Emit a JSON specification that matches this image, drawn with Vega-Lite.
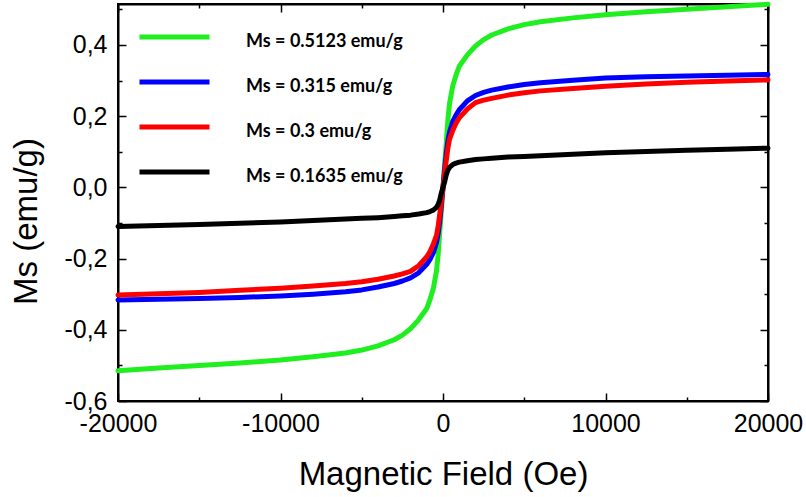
{
  "$schema": "https://vega.github.io/schema/vega-lite/v6.json",
  "width": 650,
  "height": 397,
  "autosize": {"type": "none"},
  "padding": {"left": 118, "top": 4, "right": 38, "bottom": 96},
  "background": "white",
  "config": {
    "view": {"stroke": "black", "strokeWidth": 2},
    "font": "Liberation Sans",
    "axis": {"grid": false, "labelColor": "black", "titleColor": "black", "tickColor": "black", "domainColor": "black", "domainWidth": 2, "tickWidth": 1.5}
  },
  "data": {
    "values": [
      {"H": -20000, "g": -0.515, "b": -0.316, "r": -0.302, "k": -0.11},
      {"H": -17500, "g": -0.507, "b": -0.314, "r": -0.299, "k": -0.107},
      {"H": -15000, "g": -0.5, "b": -0.312, "r": -0.295, "k": -0.104},
      {"H": -12500, "g": -0.493, "b": -0.309, "r": -0.289, "k": -0.101},
      {"H": -10000, "g": -0.485, "b": -0.305, "r": -0.283, "k": -0.097},
      {"H": -8000, "g": -0.476, "b": -0.3, "r": -0.277, "k": -0.093},
      {"H": -6000, "g": -0.465, "b": -0.293, "r": -0.27, "k": -0.089},
      {"H": -5000, "g": -0.457, "b": -0.288, "r": -0.265, "k": -0.087},
      {"H": -4000, "g": -0.445, "b": -0.28, "r": -0.258, "k": -0.085},
      {"H": -3000, "g": -0.428, "b": -0.27, "r": -0.249, "k": -0.082},
      {"H": -2500, "g": -0.415, "b": -0.263, "r": -0.243, "k": -0.08},
      {"H": -2000, "g": -0.397, "b": -0.254, "r": -0.236, "k": -0.078},
      {"H": -1500, "g": -0.372, "b": -0.24, "r": -0.22, "k": -0.075},
      {"H": -1000, "g": -0.34, "b": -0.216, "r": -0.195, "k": -0.071},
      {"H": -800, "g": -0.315, "b": -0.202, "r": -0.18, "k": -0.068},
      {"H": -600, "g": -0.285, "b": -0.184, "r": -0.16, "k": -0.064},
      {"H": -400, "g": -0.235, "b": -0.155, "r": -0.135, "k": -0.056},
      {"H": -300, "g": -0.19, "b": -0.13, "r": -0.11, "k": -0.048},
      {"H": -200, "g": -0.125, "b": -0.095, "r": -0.075, "k": -0.035},
      {"H": -100, "g": -0.065, "b": -0.05, "r": -0.04, "k": -0.015},
      {"H": 0, "g": 0, "b": 0, "r": 0, "k": 0},
      {"H": 100, "g": 0.065, "b": 0.05, "r": 0.04, "k": 0.015},
      {"H": 200, "g": 0.125, "b": 0.095, "r": 0.075, "k": 0.035},
      {"H": 300, "g": 0.19, "b": 0.13, "r": 0.11, "k": 0.048},
      {"H": 400, "g": 0.235, "b": 0.155, "r": 0.135, "k": 0.056},
      {"H": 600, "g": 0.285, "b": 0.185, "r": 0.16, "k": 0.064},
      {"H": 800, "g": 0.315, "b": 0.203, "r": 0.18, "k": 0.068},
      {"H": 1000, "g": 0.34, "b": 0.218, "r": 0.195, "k": 0.071},
      {"H": 1500, "g": 0.372, "b": 0.243, "r": 0.22, "k": 0.075},
      {"H": 2000, "g": 0.397, "b": 0.258, "r": 0.238, "k": 0.078},
      {"H": 2500, "g": 0.415, "b": 0.267, "r": 0.245, "k": 0.08},
      {"H": 3000, "g": 0.428, "b": 0.273, "r": 0.25, "k": 0.082},
      {"H": 4000, "g": 0.445, "b": 0.282, "r": 0.259, "k": 0.085},
      {"H": 5000, "g": 0.457, "b": 0.289, "r": 0.266, "k": 0.087},
      {"H": 6000, "g": 0.465, "b": 0.294, "r": 0.271, "k": 0.089},
      {"H": 8000, "g": 0.476, "b": 0.301, "r": 0.278, "k": 0.093},
      {"H": 10000, "g": 0.485, "b": 0.307, "r": 0.284, "k": 0.097},
      {"H": 12500, "g": 0.493, "b": 0.311, "r": 0.29, "k": 0.101},
      {"H": 15000, "g": 0.5, "b": 0.313, "r": 0.295, "k": 0.104},
      {"H": 17500, "g": 0.507, "b": 0.315, "r": 0.299, "k": 0.107},
      {"H": 20000, "g": 0.514, "b": 0.317, "r": 0.302, "k": 0.11}
    ]
  },
  "transform": [{"fold": ["g", "b", "r", "k"], "as": ["s", "M"]}],
  "layer": [
    {
      "mark": {"type": "line", "strokeWidth": 5, "strokeCap": "round", "strokeJoin": "round"},
      "encoding": {
        "x": {
          "field": "H", "type": "quantitative",
          "scale": {"domain": [-20000, 20000], "nice": false, "zero": false},
          "axis": {
            "orient": "bottom",
            "values": [-20000, -15000, -10000, -5000, 0, 5000, 10000, 15000, 20000],
            "labelExpr": "datum.value % 10000 == 0 ? '' + datum.value : ''",
            "tickSize": {"condition": {"test": "datum.value % 10000 != 0", "value": -4}, "value": -8},
            "labelFontSize": 25, "labelPadding": 18, "labelFlush": false, "labelOverlap": false,
            "title": "Magnetic Field (Oe)", "titleFontSize": 33, "titleFontWeight": "normal", "titlePadding": 18
          }
        },
        "y": {
          "field": "M", "type": "quantitative",
          "scale": {"domain": [-0.6, 0.515], "nice": false, "zero": false},
          "axis": {
            "orient": "left",
            "values": [-0.6, -0.5, -0.4, -0.3, -0.2, -0.1, 0, 0.1, 0.2, 0.3, 0.4, 0.5],
            "labelExpr": "abs(round(datum.value * 10)) % 2 == 0 ? replace(replace(format(datum.value, '.1f'), '.', ','), '\u2212', '-') : ''",
            "tickSize": {"condition": {"test": "abs(round(datum.value * 10)) % 2 == 1", "value": -4}, "value": -8},
            "labelFontSize": 25, "labelPadding": 19, "labelFlush": false, "labelOverlap": false,
            "title": "Ms (emu/g)", "titleFontSize": 33, "titleFontWeight": "normal",
            "titleX": -75, "titleY": 217, "titleBaseline": "bottom", "titleAngle": -90
          }
        },
        "color": {
          "field": "s", "type": "nominal",
          "scale": {"domain": ["g", "b", "r", "k"], "range": ["#1fee1f", "#0000ff", "#ff0000", "#000000"]},
          "legend": {
            "orient": "none", "legendX": 40, "legendY": 21.5, "padding": 0,
            "title": null,
            "symbolType": "M-2.5,-0.35H2.5", "symbolSize": 784, "symbolStrokeWidth": 5,
            "labelFont": "Lato", "labelFontWeight": "bold", "labelFontSize": 18, "labelColor": "black",
            "labelOffset": 55, "rowPadding": 19,
            "labelExpr": "datum.value == 'g' ? 'Ms = 0.5123 emu/g' : datum.value == 'b' ? 'Ms = 0.315 emu/g' : datum.value == 'r' ? 'Ms = 0.3 emu/g' : 'Ms = 0.1635 emu/g'"
          }
        }
      }
    },
    {
      "mark": {"type": "line", "strokeOpacity": 0},
      "encoding": {
        "x": {
          "field": "H", "type": "quantitative",
          "axis": {
            "orient": "top",
            "values": [-20000, -15000, -10000, -5000, 0, 5000, 10000, 15000, 20000],
            "labels": false, "title": null,
            "tickSize": {"condition": {"test": "datum.value % 10000 != 0", "value": -4}, "value": -8}
          }
        },
        "y": {
          "field": "M", "type": "quantitative",
          "axis": {
            "orient": "right",
            "values": [-0.6, -0.5, -0.4, -0.3, -0.2, -0.1, 0, 0.1, 0.2, 0.3, 0.4, 0.5],
            "labels": false, "title": null,
            "tickSize": {"condition": {"test": "abs(round(datum.value * 10)) % 2 == 1", "value": -4}, "value": -8}
          }
        }
      }
    }
  ],
  "resolve": {"axis": {"x": "independent", "y": "independent"}}
}
